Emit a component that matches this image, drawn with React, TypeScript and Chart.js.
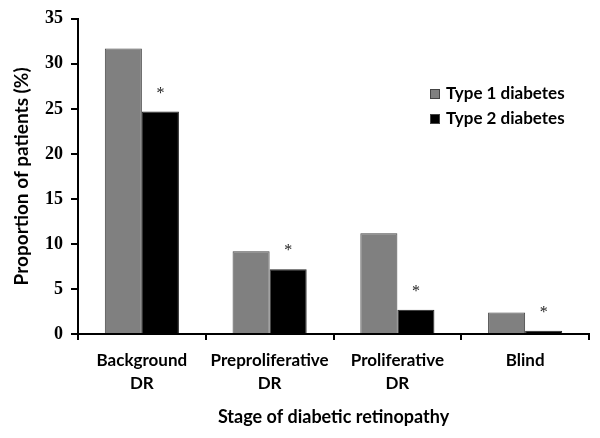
import React, { useEffect, useRef } from "react";
import { Chart, registerables } from "chart.js";

Chart.register(...registerables);

const categories: string[][] = [
  ["Background", "DR"],
  ["Preproliferative", "DR"],
  ["Proliferative", "DR"],
  ["Blind"],
];
const type1Values = [31.7, 9.2, 11.2, 2.4];
const type2Values = [24.7, 7.2, 2.7, 0.35];
const significant = [true, true, true, true];
const seriesLabels = ["Type 1 diabetes", "Type 2 diabetes"];
const yTicks = [0, 5, 10, 15, 20, 25, 30, 35];

const SANS = "Lato, 'Open Sans', sans-serif";
const SERIF = "'Liberation Serif', 'DejaVu Serif', serif";

const overlayPlugin = {
  id: "overlay",
  afterDatasetsDraw(chart: any) {
    const ctx = chart.ctx;
    ctx.save();
    // asterisks
    const meta = chart.getDatasetMeta(1);
    ctx.fillStyle = "#222";
    ctx.font = `16px ${SERIF}`;
    ctx.textAlign = "center";
    ctx.textBaseline = "middle";
    meta.data.forEach((bar: any, i: number) => {
      if (significant[i]) ctx.fillText("*", bar.x, bar.y - 18);
    });
    // legend
    const ds = chart.data.datasets;
    const lx = 430;
    const ly = [94, 119];
    ctx.textAlign = "left";
    ctx.font = `bold 17px ${SANS}`;
    ds.forEach((d: any, i: number) => {
      ctx.fillStyle = d.backgroundColor;
      ctx.fillRect(lx, ly[i] - 5, 10, 10);
      ctx.strokeStyle = "#444";
      ctx.lineWidth = 1;
      ctx.strokeRect(lx + 0.5, ly[i] - 4.5, 9, 9);
      ctx.fillStyle = "#000";
      ctx.fillText(d.label, lx + 16, ly[i]);
    });
    ctx.restore();
  },
};

export default function App() {
  const ref = useRef<HTMLCanvasElement>(null);
  useEffect(() => {
    if (!ref.current) return;
    const chart = new Chart(ref.current, {
      type: "bar",
      data: {
        labels: categories,
        datasets: [
          {
            label: seriesLabels[0],
            data: type1Values,
            backgroundColor: "#808080",
            borderColor: "#444",
            borderWidth: 1,
          },
          {
            label: seriesLabels[1],
            data: type2Values,
            backgroundColor: "#000000",
            borderColor: "#222",
            borderWidth: 1,
          },
        ],
      },
      options: {
        responsive: false,
        animation: false,
        layout: { padding: { top: 15, right: 11, left: 0, bottom: 0 } },
        plugins: {
          legend: { display: false },
          tooltip: { enabled: false },
        },
        datasets: {
          bar: { categoryPercentage: 0.58, barPercentage: 1.0 },
        },
        scales: {
          x: {
            offset: true,
            grid: {
              offset: true,
              drawOnChartArea: false,
              color: "#000",
              lineWidth: 2,
              tickLength: 6,
            },
            border: { color: "#000", width: 2 },
            ticks: {
              color: "#000",
              padding: 9,
              maxRotation: 0,
              autoSkip: false,
              font: { family: SANS, size: 17, weight: "bold", lineHeight: 1.35 },
            },
            title: {
              display: true,
              text: "Stage of diabetic retinopathy",
              color: "#000",
              font: { family: SANS, size: 18, weight: "bold", lineHeight: 1.2 },
              padding: { top: 4, bottom: 10 },
            },
            afterFit(scale: any) {
              scale.height = 104;
            },
          },
          y: {
            min: 0,
            max: 35,
            afterBuildTicks(scale: any) {
              scale.ticks = yTicks.map((v) => ({ value: v }));
            },
            grid: {
              drawOnChartArea: false,
              color: "#000",
              lineWidth: 2,
              tickLength: 7,
            },
            border: { color: "#000", width: 2 },
            ticks: {
              color: "#000",
              padding: 8,
              font: { family: SERIF, size: 18, weight: "bold" },
            },
            title: {
              display: true,
              text: "Proportion of patients (%)",
              color: "#000",
              font: { family: SANS, size: 19, weight: "bold", lineHeight: 1.2 },
              padding: { top: 10, bottom: 4 },
            },
            afterFit(scale: any) {
              scale.width = 78;
            },
          },
        },
      },
      plugins: [overlayPlugin],
    } as any);
    return () => chart.destroy();
  }, []);
  return (
    <div style={{ position: "absolute", left: 0, top: 0, width: 600, height: 438, background: "#fff" }}>
      <canvas ref={ref} width={600} height={438} style={{ display: "block" }} />
    </div>
  );
}
